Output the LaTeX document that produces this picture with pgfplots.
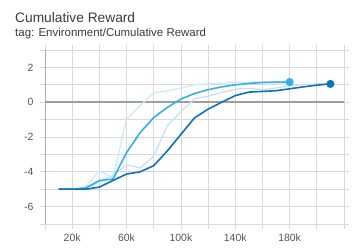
\documentclass[border=0pt]{standalone}
\usepackage{pgfplots}
\pgfplotsset{compat=1.18}
\usepackage{fontspec}
\setmainfont{Liberation Sans}
\definecolor{darkb}{HTML}{0E72B5}
\definecolor{lightb}{HTML}{33B0E6}
\definecolor{gridc}{HTML}{D9D9D9}
\definecolor{zeroc}{HTML}{9E9E9E}
\definecolor{tickc}{HTML}{555555}
\definecolor{titlec}{HTML}{3A3A3A}
\begin{document}
\begin{tikzpicture}[x=1bp,y=1bp]
\path[use as bounding box] (0,0) rectangle (355,251);
\node[anchor=base west, inner sep=0, font=\fontsize{13.8}{16}\selectfont, text=titlec] at (15,228.3) {Cumulative Reward};
\node[anchor=base west, inner sep=0, font=\fontsize{11.5}{13}\selectfont, text=titlec] at (15,214.3) {tag: Environment/Cumulative Reward};
\begin{axis}[
  at={(45bp,27bp)}, anchor=south west,
  scale only axis, width=299bp, height=174bp,
  xmin=0, xmax=220000, ymin=-7, ymax=3,
  xtick={20000,60000,100000,140000,180000},
  xticklabels={20k,60k,100k,140k,180k},
  minor xtick={0,40000,80000,120000,160000,200000,220000},
  ytick={-6,-4,-2,0,2},
  minor ytick={-7,-5,-3,-1,1,3},
  scaled x ticks=false,
  grid=both,
  major grid style={gridc, line width=0.7bp},
  minor grid style={gridc, line width=0.7bp},
  axis line style={draw=none},
  tick align=outside,
  major tick length=5bp, minor tick length=5bp,
  every tick/.style={gridc, line width=0.7bp},
  ticklabel style={font=\fontsize{10.5}{12}\selectfont, text=tickc},
  /pgf/number format/assume math mode=true,
  xticklabel style={yshift=-1bp},
  yticklabel style={xshift=-3bp},
  clip=false,
]
\draw[gridc!80!black, line width=0.9bp] (axis cs:0,-7) -- (axis cs:0,3);
\draw[zeroc, line width=1.4bp] (axis cs:0,0) -- (axis cs:220000,0);
% raw (faint) series
\addplot[lightb!25, line width=1.3bp, mark=none] coordinates {
(10000,-5) (20000,-5) (30000,-4.85) (40000,-3.95) (50000,-4.35) (60000,-1.0) (70000,-0.2) (80000,0.55) (90000,0.65) (100000,0.8) (110000,1.0) (120000,1.05) (130000,1.1) (140000,1.15) (150000,1.15) (160000,1.17) (170000,1.18) (180000,1.18)};
\addplot[darkb!22, line width=1.3bp, mark=none] coordinates {
(10000,-5) (20000,-5) (30000,-4.95) (40000,-4.6) (50000,-4.2) (60000,-3.6) (70000,-3.78) (80000,-3.1) (90000,-1.35) (100000,-0.55) (110000,0.2) (120000,0.35) (130000,0.55) (140000,0.75) (150000,0.8) (160000,0.72) (170000,0.82) (180000,0.95) (190000,1.0) (200000,1.05) (210000,1.08)};
% smoothed series
\addplot[lightb, line width=1.6bp, mark=none] coordinates {
(10000,-5) (20000,-5) (30000,-4.93) (40000,-4.5) (50000,-4.42) (60000,-2.9) (70000,-1.75) (80000,-0.88) (90000,-0.3) (100000,0.18) (110000,0.5) (120000,0.72) (130000,0.88) (140000,1.0) (150000,1.08) (160000,1.13) (170000,1.15) (180000,1.16)};
\addplot[darkb, line width=1.6bp, mark=none] coordinates {
(10000,-5) (20000,-5) (30000,-5) (40000,-4.88) (50000,-4.5) (60000,-4.13) (70000,-4.0) (80000,-3.65) (90000,-2.8) (100000,-1.85) (110000,-0.9) (120000,-0.4) (130000,0.0) (140000,0.38) (150000,0.58) (160000,0.62) (170000,0.66) (180000,0.77) (190000,0.88) (200000,0.98) (210000,1.05)};
\addplot[only marks, mark=*, mark size=3.8bp, lightb, mark options={draw=lightb, fill=lightb}] coordinates {(180000,1.16)};
\addplot[only marks, mark=*, mark size=3.8bp, darkb, mark options={draw=darkb, fill=darkb}] coordinates {(210000,1.05)};
\end{axis}
\end{tikzpicture}
\end{document}
